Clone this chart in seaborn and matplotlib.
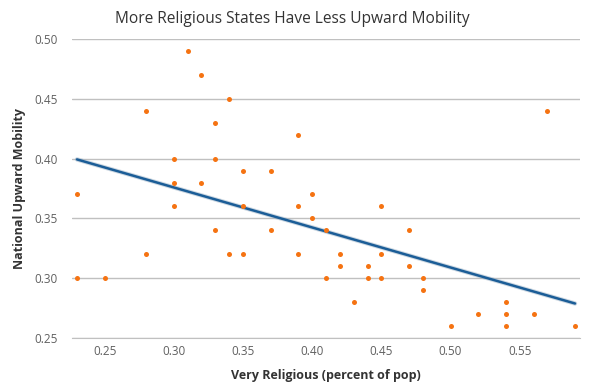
import pandas as pd
import numpy as np
import matplotlib.pyplot as plt
import seaborn as sns

# Values
very_religious = [0.23, 0.23, 0.25, 0.28, 0.28, 0.30, 0.30, 0.30, 0.31, 0.32,
                  0.32, 0.33, 0.33, 0.33, 0.34, 0.34, 0.35, 0.35, 0.35, 0.37,
                  0.37, 0.39, 0.39, 0.39, 0.40, 0.40, 0.41, 0.41, 0.42, 0.42,
                  0.43, 0.44, 0.44, 0.45, 0.45, 0.45, 0.47, 0.47, 0.48, 0.48,
                  0.50, 0.52, 0.54, 0.54, 0.54, 0.56, 0.57, 0.59]
upward_mobility = [0.37, 0.30, 0.30, 0.44, 0.32, 0.40, 0.38, 0.36, 0.49, 0.47,
                   0.38, 0.43, 0.40, 0.34, 0.45, 0.32, 0.39, 0.36, 0.32, 0.39,
                   0.34, 0.42, 0.36, 0.32, 0.37, 0.35, 0.34, 0.30, 0.32, 0.31,
                   0.28, 0.31, 0.30, 0.36, 0.32, 0.30, 0.34, 0.31, 0.30, 0.29,
                   0.26, 0.27, 0.28, 0.27, 0.26, 0.27, 0.44, 0.26]
x_ticks = [0.25, 0.30, 0.35, 0.40, 0.45, 0.50, 0.55]
y_ticks = [0.25, 0.30, 0.35, 0.40, 0.45, 0.50]

df = pd.DataFrame({'religious': very_religious, 'mobility': upward_mobility})

sns.set_style('white')
plt.rcParams['font.family'] = ['Open Sans', 'DejaVu Sans']

fig = plt.figure(figsize=(6, 3.88), dpi=100)
ax = fig.add_axes([72 / 600, 1 - 338 / 388, 508 / 600, 299 / 388])

# soft shadow under the trend line
sns.regplot(data=df, x='religious', y='mobility', ax=ax, ci=None, scatter=False,
            truncate=True, line_kws={'color': '#9ab0c4', 'lw': 3.2, 'alpha': 0.5})
sns.regplot(data=df, x='religious', y='mobility', ax=ax, ci=None, truncate=True,
            scatter_kws={'s': 13, 'color': '#f57312', 'alpha': 1, 'linewidths': 0, 'zorder': 4},
            line_kws={'color': '#1b5d97', 'lw': 1.8, 'zorder': 3})

ax.set_xlim(0.2264, 0.5936)
ax.set_ylim(0.25, 0.50)
ax.set_xticks(x_ticks)
ax.set_yticks(y_ticks)
ax.set_xticklabels([f'{t:.2f}' for t in x_ticks])
ax.set_yticklabels([f'{t:.2f}' for t in y_ticks])
ax.yaxis.grid(True, color='#c0c0c0', lw=1)
ax.set_axisbelow(True)
for side in ['top', 'right', 'left']:
    ax.spines[side].set_visible(False)
ax.spines['bottom'].set_color('#c0c0c0')
ax.tick_params(axis='x', length=4, color='#c0d0e0', labelsize=8.5, labelcolor='#606060', pad=1)
ax.tick_params(axis='y', length=0, labelsize=8.5, labelcolor='#606060', pad=10)

ax.set_xlabel('Very Religious (percent of pop)', fontsize=9, fontweight='bold',
              color='#333333', labelpad=8)
ax.set_ylabel('National Upward Mobility', fontsize=9, fontweight='bold',
              color='#333333', labelpad=6)
fig.text(0.488, 0.952, 'More Religious States Have Less Upward Mobility',
         ha='center', va='center', fontsize=11.2, color='#333333')

fig.savefig('out.png', dpi=100)
